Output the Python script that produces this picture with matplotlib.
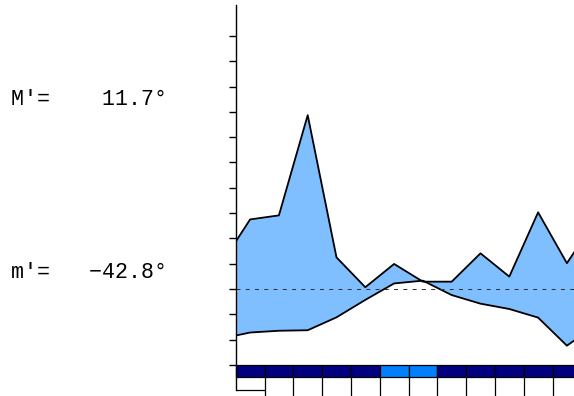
import matplotlib.pyplot as plt
import numpy as np

# monthly values, temperature scale (one tick = 10 units)
temp = [-17.2, -16.5, -16.3, -11.2, -4.3, 2.2, 3.3, -2.4, -5.8, -7.9, -11.3, -22.4]
prec = [27.5, 29.1, 68.7, 12.5, 0.7, 9.9, 2.9, 2.9, 14.1, 4.9, 30.3, 10.2]
temp_edge = -18.4
prec_edge = 18.7
# 2 = sure frost, 1 = probable frost
frost = [2, 2, 2, 2, 2, 1, 1, 2, 2, 2, 2, 2]
abs_max = 11.7
abs_min = -42.8

x = np.r_[0, np.arange(12) + 0.5, 12]
t = np.r_[temp_edge, temp, temp_edge]
p = np.r_[prec_edge, prec, prec_edge]

W, H = 574, 396
fig = plt.figure(figsize=(W / 100, H / 100), dpi=100)
ax = fig.add_axes([235.7 / W, 0, 345.6 / W, (H - 5) / H])
ax.set_xlim(0, 12)
ax.set_ylim(-42.29, 112.25)

ax.fill_between(x, t, p, where=p >= t, interpolate=True, color='#80bfff', lw=0)
ax.fill_between(x, t, p, where=p < t, interpolate=True, facecolor='none',
                edgecolor='red', hatch='...', lw=0)
ax.plot(x, p, color='black', lw=1.3)
ax.plot(x, t, color='black', lw=1.3)
ax.axhline(0, color='#333333', lw=0.75, ls=(0, (3.8, 5.1)))

for s in ['top', 'right', 'bottom']:
    ax.spines[s].set_visible(False)
ax.spines['left'].set_bounds(-39.9, 112.25)
ax.spines['left'].set_linewidth(1)
ax.set_yticks(np.arange(-30, 101, 10))
ax.set_xticks([])
ax.tick_params(axis='y', length=5, width=1, labelleft=False)

# frost bar
cols = {2: '#000080', 1: '#0080ff'}
ax.bar(np.arange(12), 4.6, bottom=-34.6, width=1, align='edge',
       color=[cols[f] for f in frost], edgecolor='black', lw=0.9, clip_on=False)
ax.vlines(np.arange(1, 13), -42.3, -34.6, colors='black', lw=0.9)
ax.hlines(-39.9, 0, 1, colors='black', lw=0.9)

fam = ['Liberation Mono', 'DejaVu Sans Mono']
fig.text(11 / W, (H - 105) / H, "M\u2032=    %4.1f\u00b0" % abs_max,
         family=fam, fontsize=15.6, va='baseline')
fig.text(11 / W, (H - 278) / H, "m\u2032=   \u2212%4.1f\u00b0" % abs(abs_min),
         family=fam, fontsize=15.6, va='baseline')

fig.savefig('out.png', dpi=100)
